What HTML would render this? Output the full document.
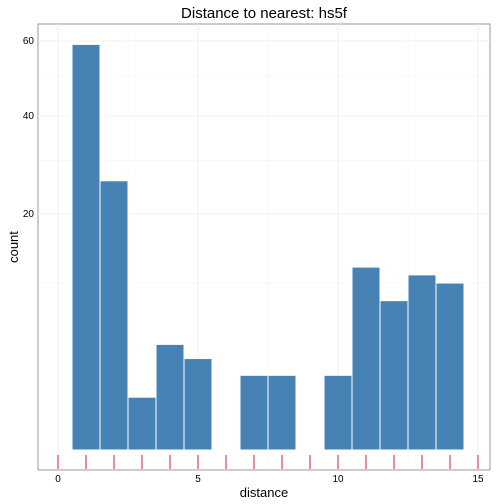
<!DOCTYPE html>
<html><head><meta charset="utf-8"><style>body{margin:0;background:#fff}svg{display:block;font-family:"Liberation Sans",sans-serif}</style></head>
<body>
<svg id="c" width="504" height="504">
<rect x="38" y="24" width="452" height="446" fill="#fff" stroke="#999" stroke-width="1"/>
<g id="grid"></g><g id="bars"></g><g id="rug"></g><g id="axes"></g>
<text x="264" y="18" text-anchor="middle" font-size="15">Distance to nearest: hs5f</text>
<text x="264" y="497" text-anchor="middle" font-size="13">distance</text>
<text x="18" y="247" text-anchor="middle" font-size="13" transform="rotate(-90 18 247)">count</text>
</svg>
<script>
const binCenters=[1,2,3,4,5,6,7,8,9,10,11,12,13,14];
const counts=[59,26,1,4,3,0,2,2,0,2,12,8,11,10];
const rugValues=[0,1,2,3,4,5,6,7,8,9,10,11,12,13,14,15];
const xTicks=[0,5,10,15];
const yTicks=[20,40,60];
const NS="http://www.w3.org/2000/svg";
const xs=v=>58+28*v;
const ys=v=>450-52.8*Math.sqrt(v);
function mk(t,a,p){const e=document.createElementNS(NS,t);for(const k in a)e.setAttribute(k,a[k]);p.appendChild(e);return e;}
const grid=document.getElementById('grid'),bars=document.getElementById('bars'),rug=document.getElementById('rug'),axes=document.getElementById('axes');
for(let v=0;v<=15;v+=2.5){const l=mk('line',{x1:xs(v),x2:xs(v),y1:24,y2:470,stroke:'#f0f0f0','stroke-width':v%5?0.5:1},grid);}
for(const v of [10,20,30,40,50,60]){const l=mk('line',{x1:38,x2:490,y1:ys(v),y2:ys(v),stroke:'#f0f0f0','stroke-width':v%20?0.5:1},grid);}
binCenters.forEach((c,i)=>{if(!counts[i])return;const r=mk('rect',{x:xs(c-0.5),y:ys(counts[i]),width:28,height:ys(0)-ys(counts[i]),fill:'#4682b4',stroke:'#fff','stroke-width':1},bars);});
rugValues.forEach(v=>{const l=mk('line',{x1:xs(v),x2:xs(v),y1:455,y2:469,stroke:'#cc2222','stroke-width':1},rug);});
xTicks.forEach(v=>{const t=mk('text',{x:xs(v),y:482,'text-anchor':'middle','font-size':10},axes);t.textContent=v;});
yTicks.forEach(v=>{const t=mk('text',{x:34,y:ys(v)+3,'text-anchor':'end','font-size':10},axes);t.textContent=v;});
</script>
</body></html>
